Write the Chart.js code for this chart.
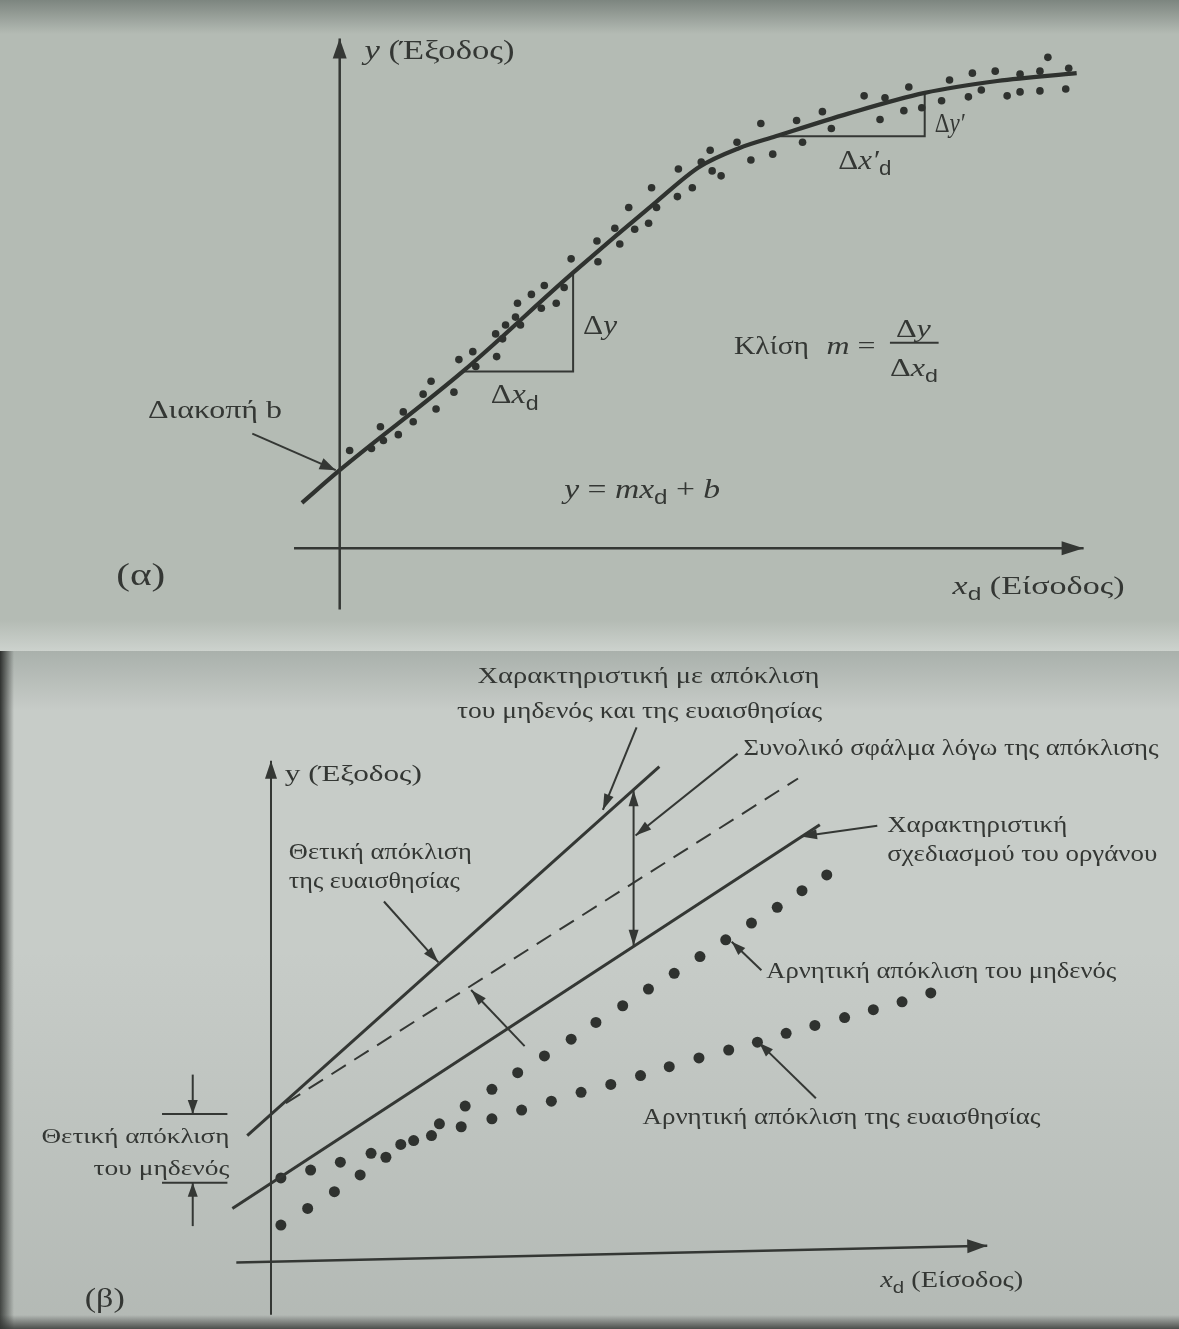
<!DOCTYPE html>
<html>
<head>
<meta charset="utf-8">
<script src="https://cdn.jsdelivr.net/npm/chart.js@4.4.1/dist/chart.umd.min.js"></script>
<style>
  body { margin: 0; background: #c3c8c4; }
  canvas { display: block; }
</style>
</head>
<body>
<canvas id="chartA" width="1179" height="651"></canvas>
<canvas id="chartB" width="1179" height="678"></canvas>
<script>
// ---- (α) measured output y against input x_d ----
const measX = [1.0, 3.2, 4.1, 4.4, 5.9, 6.4, 7.4, 8.4, 9.2, 9.7, 11.5, 12.0, 13.4, 13.7, 15.8, 15.7, 16.4, 16.7,
  17.7, 17.9, 18.2, 19.3, 20.3, 20.6, 21.8, 22.6, 23.3, 26.0, 25.9, 27.7, 28.2, 29.1, 29.7, 31.1, 31.9, 31.4,
  34.1, 34.0, 35.5, 36.4, 37.3, 37.5, 38.4, 40.0, 42.4, 41.4, 43.6, 46.0, 46.6, 48.6, 49.5, 52.8, 54.4, 54.9,
  56.8, 57.3, 58.6, 60.6, 61.4, 63.3, 63.7, 64.6, 66.0, 67.2, 68.5, 68.5, 70.5, 70.5, 71.3, 73.1, 73.4];
const measY = [9.9, 10.1, 12.3, 10.9, 11.5, 13.8, 12.8, 15.6, 16.9, 14.1, 15.8, 19.1, 19.9, 18.4, 19.4, 21.7, 21.2, 22.6,
  23.4, 24.8, 22.6, 25.7, 24.3, 26.6, 24.8, 26.4, 29.3, 29.0, 31.1, 32.4, 30.8, 34.5, 32.3, 32.9, 34.5, 36.5,
  38.4, 35.6, 36.5, 39.1, 40.3, 38.2, 37.7, 41.1, 43.0, 39.3, 39.9, 43.3, 41.1, 44.2, 42.5, 45.8, 43.4, 45.6,
  44.3, 46.7, 44.6, 45.3, 47.4, 45.7, 48.1, 46.4, 48.3, 45.8, 46.2, 48.0, 46.3, 48.3, 49.7, 46.5, 48.6];

// fitted calibration curve
const curveX = [-3.8, 0, 12.4, 23.5, 31.9, 36.2, 40.2, 43.9, 51.2, 58.9, 66.2, 74.2];
const curveY = [4.6, 7.9, 17.9, 27.9, 35.1, 38.6, 40.5, 41.7, 44.0, 46.1, 47.3, 48.1];

// slope triangles (Δx_d, Δy) and (Δx'_d, Δy')
const triX = [12.4, 23.5, 23.5];
const triY = [17.9, 17.9, 27.9];
const tri2X = [43.9, 58.9, 58.9];
const tri2Y = [41.7, 41.7, 46.1];

// ---- (β) characteristics ----
const upperX = [-2.4, 39.2];      // zero + sensitivity drift
const upperY = [12.8, 50.3];
const dashX = [1.5, 53.2];        // zero drift only
const dashY = [16.1, 49.1];
const designX = [-3.9, 55.4];     // design characteristic
const designY = [5.4, 44.4];

// negative zero drift (dots)
const zeroNegX = [1.0, 3.7, 6.4, 9.0, 11.6, 14.4, 17.0, 19.6, 22.3, 24.9, 27.6, 30.3, 32.8, 35.5, 38.1, 40.7,
  43.3, 45.9, 48.5, 51.1, 53.6, 56.1];
const zeroNegY = [3.7, 5.4, 7.1, 8.8, 10.6, 12.3, 14.0, 15.8, 17.5, 19.2, 20.9, 22.6, 24.3, 26.0, 27.7, 29.3,
  31.0, 32.7, 34.4, 36.0, 37.7, 39.3];
// negative sensitivity drift (dots)
const sensNegX = [1.0, 4.0, 7.0, 10.1, 13.1, 16.2, 19.2, 22.3, 25.3, 28.3, 31.3, 34.3, 37.3, 40.2, 43.2, 46.2,
  49.1, 52.0, 54.9, 57.9, 60.8, 63.7, 66.6];
const sensNegY = [8.5, 9.3, 10.1, 11.0, 11.9, 12.8, 13.7, 14.5, 15.4, 16.3, 17.2, 18.0, 18.9, 19.8, 20.7, 21.5,
  22.3, 23.2, 24.0, 24.8, 25.6, 26.4, 27.3];

const ink = '#343734';
const serif = '"Liberation Serif", "DejaVu Serif", serif';
const sans = '"Liberation Sans", "DejaVu Sans", sans-serif';

function pts(xs, ys) {
  return xs.map((x, i) => ({ x: x, y: ys[i] }));
}

function head(ctx, x0, y0, x1, y1, len, half) {
  const a = Math.atan2(y1 - y0, x1 - x0);
  const c = Math.cos(a), s = Math.sin(a);
  ctx.beginPath();
  ctx.moveTo(x1, y1);
  ctx.lineTo(x1 - len * c + half * s, y1 - len * s - half * c);
  ctx.lineTo(x1 - len * c - half * s, y1 - len * s + half * c);
  ctx.closePath();
  ctx.fill();
}

function runFont(style, size) {
  if (style === 's') return (size * 0.72).toFixed(1) + 'px ' + sans;
  if (style === 'i') return 'italic ' + size + 'px ' + serif;
  return size + 'px ' + serif;
}

// axes, arrows, leader lines and text drawn on the chart's own scales
const diagram = {
  id: 'diagram',
  beforeDraw(chart, args, opts) {
    const ctx = chart.ctx, w = chart.width, h = chart.height;
    ctx.save();
    ctx.fillStyle = opts.paper;
    ctx.fillRect(0, 0, w, h);
    (opts.shades || []).forEach(sh => {
      const g = ctx.createLinearGradient(sh.g[0], sh.g[1], sh.g[2], sh.g[3]);
      g.addColorStop(0, sh.c0);
      g.addColorStop(1, sh.c1);
      ctx.fillStyle = g;
      ctx.fillRect(sh.r[0], sh.r[1], sh.r[2], sh.r[3]);
    });
    ctx.restore();
  },
  afterDatasetsDraw(chart, args, opts) {
    const ctx = chart.ctx, sx = chart.scales.x, sy = chart.scales.y;
    const P = (p) => [sx.getPixelForValue(p[0]), sy.getPixelForValue(p[1])];
    ctx.save();
    ctx.strokeStyle = ink;
    ctx.fillStyle = ink;
    ctx.lineCap = 'butt';
    (opts.arrows || []).forEach(a => {
      const [x0, y0] = P(a.from), [x1, y1] = P(a.to);
      const hd = a.head || [15, 5];
      ctx.lineWidth = a.width || 2;
      ctx.beginPath();
      ctx.moveTo(x0, y0);
      ctx.lineTo(x1, y1);
      ctx.stroke();
      if (hd[0] > 0) head(ctx, x0, y0, x1, y1, hd[0], hd[1]);
      if (a.both) head(ctx, x1, y1, x0, y0, hd[0], hd[1]);
    });
    (opts.labels || []).forEach(l => {
      const [x, y] = P(l.at);
      let total = 0;
      l.runs.forEach(r => { ctx.font = runFont(r[1], l.size); total += ctx.measureText(r[0]).width; });
      const k = l.w ? l.w / total : 1;
      let start = 0;
      if (l.align === 'center') start = -l.w / 2;
      if (l.align === 'right') start = -l.w;
      ctx.save();
      ctx.translate(x + start, y);
      ctx.scale(k, 1);
      ctx.textBaseline = 'middle';
      ctx.textAlign = 'left';
      let cx = 0;
      l.runs.forEach(r => {
        ctx.font = runFont(r[1], l.size);
        ctx.fillText(r[0], cx, r[1] === 's' ? l.size * 0.3 : 0);
        cx += ctx.measureText(r[0]).width;
      });
      ctx.restore();
    });
    ctx.restore();
  }
};

function baseOptions(xr, yr, diag) {
  return {
    responsive: false,
    animation: false,
    layout: { padding: 0 },
    scales: {
      x: { type: 'linear', min: xr[0], max: xr[1], display: false },
      y: { type: 'linear', min: yr[0], max: yr[1], display: false }
    },
    plugins: { legend: { display: false }, tooltip: { enabled: false }, diagram: diag }
  };
}

// (α) calibration curve with scattered readings
new Chart(document.getElementById('chartA'), {
  type: 'scatter',
  plugins: [diagram],
  data: {
    datasets: [
      { type: 'scatter', data: pts(measX, measY), pointRadius: 3.8, pointBackgroundColor: '#2f322f', pointBorderWidth: 0 },
      { type: 'line', data: pts(curveX, curveY), borderColor: '#2f322f', borderWidth: 4.2, pointRadius: 0,
        cubicInterpolationMode: 'monotone', fill: false },
      { type: 'line', data: pts(triX, triY), borderColor: ink, borderWidth: 2, pointRadius: 0, tension: 0 },
      { type: 'line', data: pts(tri2X, tri2Y), borderColor: ink, borderWidth: 2, pointRadius: 0, tension: 0 }
    ]
  },
  options: baseOptions([-33.8, 84.1], [-10.0, 55.1], {
    paper: '#b4bbb4',
    shades: [
      { r: [0, 0, 1179, 34], g: [0, 0, 0, 34], c0: 'rgba(70,80,75,0.5)', c1: 'rgba(70,80,75,0)' },
      { r: [0, 620, 1179, 31], g: [0, 620, 0, 651], c0: 'rgba(215,220,216,0)', c1: 'rgba(215,220,216,0.7)' }
    ],
    arrows: [
      { from: [0, -6.2], to: [0, 51.6], width: 2.5, head: [20, 7] },
      { from: [-4.6, 0], to: [74.9, 0], width: 2.5, head: [22, 7] },
      { from: [-8.8, 11.6], to: [-0.4, 7.9], width: 2, head: [16, 6] },
      { from: [55.4, 20.8], to: [60.3, 20.8], width: 2, head: [0, 0] }
    ],
    labels: [
      { at: [2.5, 50.3], runs: [['y', 'i'], [' (Έξοδος)', '']], size: 28, w: 150 },
      { at: [-19.3, 13.8], runs: [['Διακοπή b', '']], size: 25, w: 134 },
      { at: [24.5, 22.4], runs: [['Δ', ''], ['y', 'i']], size: 27, w: 34 },
      { at: [15.2, 15.4], runs: [['Δ', ''], ['x', 'i'], ['d', 's']], size: 27, w: 48 },
      { at: [59.9, 42.9], runs: [['Δ', ''], ['y′', 'i']], size: 27, w: 30 },
      { at: [50.2, 39.1], runs: [['Δ', ''], ['x′', 'i'], ['d', 's']], size: 27, w: 53 },
      { at: [39.7, 20.4], runs: [['Κλίση', '']], size: 26, w: 75 },
      { at: [49.0, 20.4], runs: [['m', 'i'], [' =', '']], size: 26, w: 49 },
      { at: [56.0, 22.1], runs: [['Δ', ''], ['y', 'i']], size: 26, w: 35 },
      { at: [55.4, 18.1], runs: [['Δ', ''], ['x', 'i'], ['d', 's']], size: 26, w: 48 },
      { at: [22.6, 5.8], runs: [['y', 'i'], [' = ', ''], ['mx', 'i'], ['d', 's'], [' + ', ''], ['b', 'i']], size: 27, w: 156 },
      { at: [61.7, -3.9], runs: [['x', 'i'], ['d', 's'], [' (Είσοδος)', '']], size: 26, w: 172 },
      { at: [-22.5, -2.9], runs: [['(α)', '']], size: 32, w: 49 }
    ]
  })
});

// (β) design characteristic and its drifts
new Chart(document.getElementById('chartB'), {
  type: 'scatter',
  plugins: [diagram],
  data: {
    datasets: [
      { type: 'line', data: pts(upperX, upperY), borderColor: ink, borderWidth: 3, pointRadius: 0 },
      { type: 'line', data: pts(dashX, dashY), borderColor: ink, borderWidth: 2, borderDash: [17, 10], pointRadius: 0 },
      { type: 'line', data: pts(designX, designY), borderColor: ink, borderWidth: 3, pointRadius: 0 },
      { type: 'scatter', data: pts(zeroNegX, zeroNegY), pointRadius: 5.5, pointBackgroundColor: '#2f322f', pointBorderWidth: 0 },
      { type: 'scatter', data: pts(sensNegX, sensNegY), pointRadius: 5.5, pointBackgroundColor: '#2f322f', pointBorderWidth: 0 }
    ]
  },
  options: baseOptions([-26.8, 91.1], [-6.3, 61.5], {
    paper: '#c7ccc8',
    shades: [
      { r: [0, 0, 1179, 60], g: [0, 0, 0, 60], c0: 'rgba(150,158,152,0.6)', c1: 'rgba(150,158,152,0)' },
      { r: [0, 0, 14, 678], g: [0, 0, 14, 0], c0: 'rgba(40,42,40,0.95)', c1: 'rgba(40,42,40,0)' },
      { r: [0, 300, 1179, 378], g: [0, 300, 0, 678], c0: 'rgba(120,128,122,0)', c1: 'rgba(120,128,122,0.25)' },
      { r: [0, 664, 1179, 14], g: [0, 664, 0, 678], c0: 'rgba(50,52,50,0)', c1: 'rgba(50,52,50,0.8)' }
    ],
    arrows: [
      { from: [0, -5.4], to: [0, 50.9], width: 2, head: [18, 6] },
      { from: [-3.5, -0.1], to: [72.3, 1.6], width: 2.5, head: [20, 7] },
      { from: [36.9, 54.3], to: [33.5, 45.9], width: 2, head: [16, 5] },
      { from: [36.6, 32.1], to: [36.6, 47.9], width: 2, head: [16, 5], both: true },
      { from: [47.1, 51.6], to: [36.8, 43.3], width: 2, head: [16, 5] },
      { from: [61.2, 44.3], to: [53.5, 43.2], width: 2, head: [16, 5] },
      { from: [11.4, 36.6], to: [16.9, 30.4], width: 2, head: [16, 5] },
      { from: [25.6, 21.9], to: [20.2, 27.6], width: 2, head: [16, 5] },
      { from: [49.5, 29.6], to: [46.5, 32.5], width: 2, head: [14, 5] },
      { from: [55.0, 16.6], to: [49.3, 22.2], width: 2, head: [14, 5] },
      { from: [-11.0, 15.0], to: [-4.4, 15.0], width: 2, head: [0, 0] },
      { from: [-11.0, 8.0], to: [-4.4, 8.0], width: 2, head: [0, 0] },
      { from: [-7.9, 19.0], to: [-7.9, 15.0], width: 2, head: [14, 5] },
      { from: [-7.9, 3.6], to: [-7.9, 8.0], width: 2, head: [14, 5] }
    ],
    labels: [
      { at: [38.1, 59.4], runs: [['Χαρακτηριστική με απόκλιση', '']], size: 23, w: 342, align: 'center' },
      { at: [37.2, 55.9], runs: [['του μηδενός και της ευαισθησίας', '']], size: 23, w: 365, align: 'center' },
      { at: [1.4, 49.5], runs: [['y (Έξοδος)', '']], size: 24, w: 137 },
      { at: [47.7, 52.1], runs: [['Συνολικό σφάλμα λόγω της απόκλισης', '']], size: 23, w: 415 },
      { at: [62.2, 44.3], runs: [['Χαρακτηριστική', '']], size: 23, w: 180 },
      { at: [62.2, 41.3], runs: [['σχεδιασμού του οργάνου', '']], size: 23, w: 270 },
      { at: [1.8, 41.6], runs: [['Θετική απόκλιση', '']], size: 24, w: 183 },
      { at: [1.8, 38.6], runs: [['της ευαισθησίας', '']], size: 24, w: 171 },
      { at: [50.0, 29.4], runs: [['Αρνητική απόκλιση του μηδενός', '']], size: 23, w: 350 },
      { at: [37.5, 14.6], runs: [['Αρνητική απόκλιση της ευαισθησίας', '']], size: 23, w: 398 },
      { at: [-4.2, 12.6], runs: [['Θετική απόκλιση', '']], size: 22, w: 188, align: 'right' },
      { at: [-4.2, 9.4], runs: [['του μηδενός', '']], size: 22, w: 136, align: 'right' },
      { at: [61.5, -2.0], runs: [['x', 'i'], ['d', 's'], [' (Είσοδος)', '']], size: 23, w: 143 },
      { at: [-18.8, -3.9], runs: [['(β)', '']], size: 27, w: 40 }
    ]
  })
});
</script>
</body>
</html>
